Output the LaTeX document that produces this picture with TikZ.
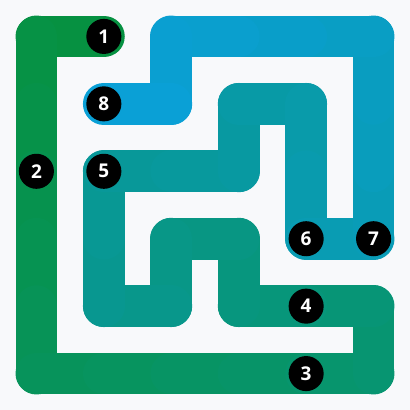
\documentclass[tikz,border=0pt]{standalone}
\usepackage{fontspec}
\setsansfont{Open Sans}
\usepackage{tikz}

\definecolor{pathgreen}{RGB}{6,145,62}
\definecolor{pathteal}{RGB}{8,152,150}
\definecolor{pathblue}{RGB}{10,160,216}
\definecolor{paper}{RGB}{248,249,251}

\tikzset{
  dot/.style={circle, fill=black, text=white, inner sep=0pt, minimum size=0.52cm,
    font=\sffamily\bfseries\fontsize{8}{9}\selectfont},
  pipe/.style={line width=0.62cm, line cap=round, line join=round}
}

\begin{document}
\begin{tikzpicture}
\fill [paper] (-0.54,0.54) rectangle (5.54,-5.54);
\foreach \i in {0,...,5}
  \foreach \j in {0,...,5}
    \coordinate (c\i\j) at (\i,-\j);

% the path, from 1 to 8, one cell at a time
\foreach \a/\b [count=\k from 0] in {c10/c00, c00/c01, c01/c02, c02/c03, c03/c04, c04/c05,
    c05/c15, c15/c25, c25/c35, c35/c45, c45/c55, c55/c54, c54/c44, c44/c34, c34/c33,
    c33/c23, c23/c24, c24/c14, c14/c13, c13/c12, c12/c22, c22/c32, c32/c31, c31/c41,
    c41/c42, c42/c43, c43/c53, c53/c52, c52/c51, c51/c50, c50/c40, c40/c30, c30/c20,
    c20/c21, c21/c11} {
  \ifnum\k<20
    \pgfmathtruncatemacro{\p}{100-100*(\k+0.5)/20}
    \draw [pipe, pathgreen!\p!pathteal] (\a) -- (\b);
  \else
    \pgfmathtruncatemacro{\p}{100-100*(\k-19.5)/15}
    \draw [pipe, pathteal!\p!pathblue] (\a) -- (\b);
  \fi
}

% numbered cells
\node [dot] (n1) at (c10) {1};
\node [dot] (n2) at (c02) {2};
\node [dot] (n3) at (c45) {3};
\node [dot] (n4) at (c44) {4};
\node [dot] (n5) at (c12) {5};
\node [dot] (n6) at (c43) {6};
\node [dot] (n7) at (c53) {7};
\node [dot] (n8) at (c11) {8};
\end{tikzpicture}
\end{document}
